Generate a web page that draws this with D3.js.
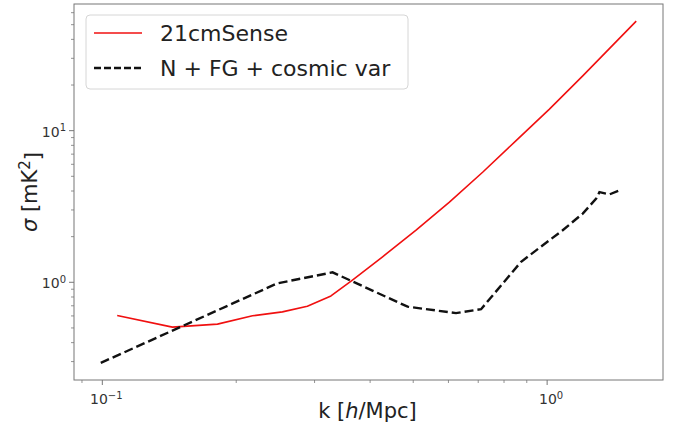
<!DOCTYPE html>
<html>
<head>
<meta charset="utf-8">
<script src="https://cdn.jsdelivr.net/npm/d3@7"></script>
<style>
  body { margin: 0; background: #fff; }
  svg { display: block; font-family: "DejaVu Sans", sans-serif; }
</style>
</head>
<body>
<svg id="chart" width="685" height="435"></svg>
<script>
// 21cmSense sensitivity
var senseK = [0.108, 0.1437, 0.1815, 0.2176, 0.254, 0.289, 0.3266, 0.365, 0.4266, 0.5074, 0.603, 0.7161, 0.8516, 1.012, 1.2025, 1.586];
var senseSigma = [0.604, 0.506, 0.53, 0.601, 0.638, 0.696, 0.813, 1.035, 1.473, 2.205, 3.38, 5.32, 8.60, 13.88, 22.97, 52.8];

// noise + foregrounds + cosmic variance
var noiseK = [0.0992, 0.2476, 0.3293, 0.4856, 0.624, 0.7104, 0.874, 1.012, 1.084, 1.2025, 1.289, 1.311, 1.381, 1.455];
var noiseSigma = [0.294, 0.985, 1.163, 0.691, 0.626, 0.665, 1.366, 1.895, 2.205, 2.84, 3.56, 3.93, 3.80, 4.04];

var legendLabels = ['21cmSense', 'N + FG + cosmic var'];
var xMajorExp = [-1, 0];
var yMajorExp = [0, 1];

var svg = d3.select('#chart');
var margin = { top: 4, right: 22, bottom: 55, left: 74 };
var width = 685 - margin.left - margin.right;
var height = 435 - margin.top - margin.bottom;
var g = svg.append('g').attr('transform', 'translate(' + margin.left + ',' + margin.top + ')');

// matplotlib style 5% padding in log space
var padLog = function(values) {
    var lo = Math.log10(d3.min(values)), hi = Math.log10(d3.max(values));
    var p = (hi - lo) * 0.05;
    return [Math.pow(10, lo - p), Math.pow(10, hi + p)];
};

var x = d3.scaleLog().domain(padLog(senseK.concat(noiseK))).range([0, width]);
var y = d3.scaleLog().domain(padLog(senseSigma.concat(noiseSigma))).range([height, 0]);

var tickColor = '#333';
var spineColor = '#777';

var minorTicks = function(scale) {
    var d = scale.domain(), out = [];
    for (var e = Math.floor(Math.log10(d[0])); e <= Math.ceil(Math.log10(d[1])); e++) {
        for (var m = 2; m <= 9; m++) {
            var v = m * Math.pow(10, e);
            if (v >= d[0] && v <= d[1]) out.push(v);
        }
    }
    return out;
};

var superLabel = function(sel) {
    sel.each(function(d) {
        var t = d3.select(this).text(null);
        t.append('tspan').text('10');
        t.append('tspan').attr('dy', '-0.55em').attr('font-size', '10px')
            .text(d < 0 ? '\u2212' + (-d) : d);
    });
};

// x axis
var xAxis = g.append('g').attr('transform', 'translate(0,' + height + ')');
xAxis.selectAll('.minor').data(minorTicks(x)).enter().append('line')
    .attr('x1', function(d) { return x(d); }).attr('x2', function(d) { return x(d); })
    .attr('y1', 0).attr('y2', 3).attr('stroke', spineColor).attr('stroke-width', 0.8);
xAxis.selectAll('.major').data(xMajorExp).enter().append('line')
    .attr('x1', function(d) { return x(Math.pow(10, d)); }).attr('x2', function(d) { return x(Math.pow(10, d)); })
    .attr('y1', 0).attr('y2', 5).attr('stroke', spineColor).attr('stroke-width', 1);
xAxis.selectAll('.lbl').data(xMajorExp).enter().append('text')
    .attr('x', function(d) { return x(Math.pow(10, d)) + 4; })
    .attr('y', 24)
    .attr('text-anchor', 'middle')
    .attr('font-size', '14px')
    .attr('fill', tickColor)
    .call(superLabel);

// y axis
var yAxis = g.append('g');
yAxis.selectAll('.minor').data(minorTicks(y)).enter().append('line')
    .attr('y1', function(d) { return y(d); }).attr('y2', function(d) { return y(d); })
    .attr('x1', 0).attr('x2', -3).attr('stroke', spineColor).attr('stroke-width', 0.8);
yAxis.selectAll('.major').data(yMajorExp).enter().append('line')
    .attr('y1', function(d) { return y(Math.pow(10, d)); }).attr('y2', function(d) { return y(Math.pow(10, d)); })
    .attr('x1', 0).attr('x2', -5).attr('stroke', spineColor).attr('stroke-width', 1);
yAxis.selectAll('.lbl').data(yMajorExp).enter().append('text')
    .attr('x', -8)
    .attr('y', function(d) { return y(Math.pow(10, d)) + 6; })
    .attr('text-anchor', 'end')
    .attr('font-size', '14px')
    .attr('fill', tickColor)
    .call(superLabel);

// frame
g.append('rect')
    .attr('width', width).attr('height', height)
    .attr('fill', 'none').attr('stroke', spineColor).attr('stroke-width', 1);

// axis labels
var xl = svg.append('text')
    .attr('x', margin.left + width / 2 - 1)
    .attr('y', 418)
    .attr('text-anchor', 'middle')
    .attr('font-size', '21px')
    .attr('fill', '#222');
xl.append('tspan').text('k [');
xl.append('tspan').attr('font-style', 'italic').text('h');
xl.append('tspan').text('/Mpc]');

var yl = svg.append('text')
    .attr('transform', 'translate(37,' + (margin.top + height / 2) + ') rotate(-90)')
    .attr('text-anchor', 'middle')
    .attr('font-size', '21px')
    .attr('fill', '#222');
yl.append('tspan').attr('font-style', 'italic').text('\u03c3');
yl.append('tspan').text(' [mK');
yl.append('tspan').attr('dy', '-0.5em').attr('font-size', '15px').text('2');
yl.append('tspan').attr('dy', '0.5em').text(']');

// lines
var line = d3.line()
    .x(function(d) { return x(d[0]); })
    .y(function(d) { return y(d[1]); });

g.append('path')
    .datum(d3.zip(senseK, senseSigma))
    .attr('fill', 'none')
    .attr('stroke', '#f01010')
    .attr('stroke-width', 1.6)
    .attr('stroke-linejoin', 'round')
    .attr('d', line);

g.append('path')
    .datum(d3.zip(noiseK, noiseSigma))
    .attr('fill', 'none')
    .attr('stroke', '#111')
    .attr('stroke-width', 2.4)
    .attr('stroke-dasharray', '9,4')
    .attr('d', line);

// legend
var legend = svg.append('g').attr('transform', 'translate(86,15)');
legend.append('rect')
    .attr('width', 322).attr('height', 74)
    .attr('rx', 4).attr('ry', 4)
    .attr('fill', '#fff').attr('fill-opacity', 0.8)
    .attr('stroke', '#d6d6d6').attr('stroke-width', 1);
var legendStyles = [
    { stroke: '#f01010', width: 1.6, dash: null },
    { stroke: '#111', width: 2.4, dash: '7,3' }
];
legendLabels.forEach(function(label, i) {
    var yy = 18 + i * 35;
    legend.append('line')
        .attr('x1', 8).attr('x2', 56).attr('y1', yy).attr('y2', yy)
        .attr('stroke', legendStyles[i].stroke)
        .attr('stroke-width', legendStyles[i].width)
        .attr('stroke-dasharray', legendStyles[i].dash);
    legend.append('text')
        .attr('x', 74).attr('y', yy + 8)
        .attr('font-size', '22px')
        .attr('fill', '#222')
        .text(label);
});
</script>
</body>
</html>
